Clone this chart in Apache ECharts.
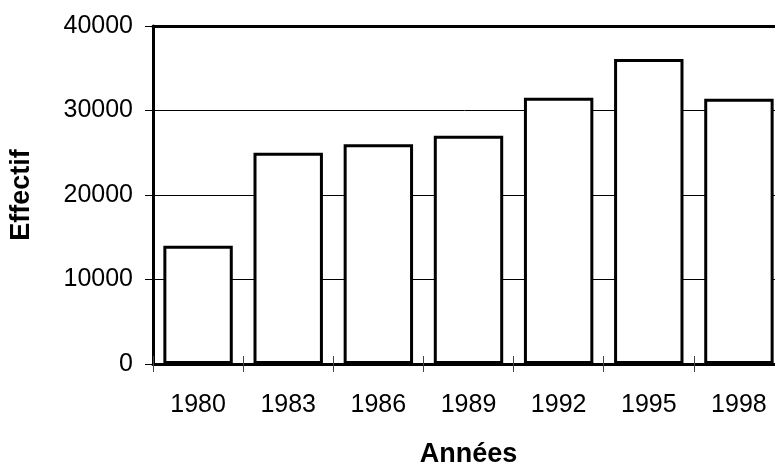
<!DOCTYPE html>
<html><head><meta charset="utf-8">
<script src="https://cdn.jsdelivr.net/npm/echarts@6/dist/echarts.min.js"></script>
<style>html,body{margin:0;padding:0;background:#fff}#c{width:775px;height:468px}</style>
</head><body><div id="c"></div>
<script>
const categories = ['1980','1983','1986','1989','1992','1995','1998'];
const effectif = [14000, 25000, 26000, 27000, 31500, 36100, 31400];
const yTicks = [0, 10000, 20000, 30000, 40000];

const chart = echarts.init(document.getElementById('c'));
const font = 'Liberation Sans, Arial, sans-serif';
chart.setOption({
  animation: false,
  grid: { left: 153, right: -9, top: 26, bottom: 104, containLabel: false, outerBoundsMode: 'none' },
  xAxis: [
    {
      type: 'category', data: categories, position: 'bottom',
      name: 'Années', nameLocation: 'middle', nameGap: 77,
      nameTextStyle: { fontFamily: font, fontSize: 27, fontWeight: 'bold', color: '#000' },
      axisLine: { lineStyle: { color: '#000', width: 3 } },
      axisTick: { show: true, length: 8, lineStyle: { color: '#444', width: 1 } },
      axisLabel: { fontFamily: font, fontSize: 25, color: '#000', margin: 29 },
      splitLine: { show: false }
    },
    {
      type: 'category', data: categories, position: 'bottom',
      axisLine: { show: false },
      axisTick: { show: true, inside: true, length: 8, lineStyle: { color: '#444', width: 1 } },
      axisLabel: { show: false }, splitLine: { show: false }
    },
    {
      type: 'category', data: categories, position: 'top',
      axisLine: { show: true, lineStyle: { color: '#000', width: 3 } },
      axisTick: { show: false }, axisLabel: { show: false }, splitLine: { show: false }
    }
  ],
  yAxis: {
    type: 'value', min: yTicks[0], max: yTicks[yTicks.length - 1], interval: 10000,
    name: 'Effectif', nameLocation: 'middle', nameGap: 118, nameRotate: 90,
    nameTextStyle: { fontFamily: font, fontSize: 27, fontWeight: 'bold', color: '#000' },
    axisLine: { show: true, lineStyle: { color: '#000', width: 3 } },
    axisTick: { show: true, length: 8, lineStyle: { color: '#000', width: 1 } },
    axisLabel: { fontFamily: font, fontSize: 25, color: '#000', margin: 20, formatter: v => String(v) },
    splitLine: { show: true, lineStyle: { color: '#000', width: 1 } }
  },
  series: [{
    type: 'bar', data: effectif, barCategoryGap: '23%',
    itemStyle: { color: '#fff', borderColor: '#000', borderWidth: 3 }
  }]
});
</script></body></html>
